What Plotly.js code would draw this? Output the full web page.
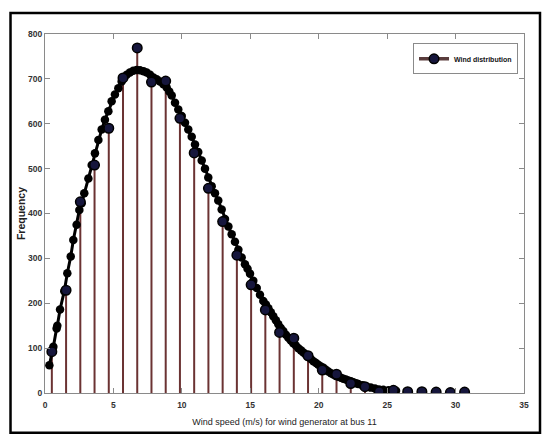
<!DOCTYPE html>
<html>
<head>
<meta charset="utf-8">
<script src="https://cdn.plot.ly/plotly-3.0.1.min.js"></script>
<style>
  html, body { margin: 0; padding: 0; background: #ffffff; }
  #chart { width: 550px; height: 446px; }
</style>
</head>
<body>
<div id="chart"></div>
<script>
// Histogram bin centres (wind speed, m/s) and counts (stem plot)
const binCenters = [0.5, 1.54, 2.58, 3.62, 4.66, 5.7, 6.74, 7.78, 8.82, 9.86,
                    10.9, 11.94, 12.98, 14.02, 15.06, 16.1, 17.14, 18.18, 19.22, 20.26,
                    21.3, 22.34, 23.38, 24.42, 25.46, 26.5, 27.54, 28.58, 29.62, 30.66];
const binCounts = [92, 229, 426, 508, 590, 702, 769, 693, 695, 612,
                   535, 456, 382, 307, 241, 185, 135, 122, 83, 51,
                   42, 21, 14, 3, 6, 3, 3, 2, 1, 2];

// Fitted distribution curve (black line with markers)
const fitSpeed = [0.32, 0.56, 0.61, 0.85, 0.9, 1.1, 1.41, 1.63, 1.88, 2.07,
                  2.31, 2.51, 2.68, 2.87, 3.17, 3.41, 3.65, 3.9, 4.14, 4.38,
                  4.63, 4.87, 5.11, 5.36, 5.6, 5.97, 6.2, 6.45, 6.7, 6.94,
                  7.2, 7.43, 7.68, 7.92, 8.16, 8.4, 8.65, 8.89, 9.08, 9.26,
                  9.5, 9.74, 9.99, 10.23, 10.47, 10.72, 10.96, 11.2, 11.45, 11.69,
                  11.93, 12.18, 12.42, 12.66, 12.91, 13.15, 13.4, 13.64, 13.88, 14.13,
                  14.37, 14.61, 14.8, 14.98, 15.22, 15.47, 15.71, 15.95, 16.14, 16.32,
                  16.5, 16.68, 16.87, 17.05, 17.23, 17.41, 17.6, 17.78, 17.96, 18.14,
                  18.33, 18.51, 18.7, 18.88, 19.06, 19.24, 19.43, 19.61, 19.8, 19.97,
                  20.16, 20.34, 20.52, 20.7, 20.9, 21.07, 21.25, 21.43, 21.62, 21.8,
                  21.98, 22.16, 22.35, 22.53, 22.72, 22.89, 23.2, 23.5, 23.8, 24.11,
                  24.4, 24.72, 25.1, 25.45, 25.65];
const fitFreq = [62, 93, 103, 144, 150, 186, 227, 267, 304, 341,
                 375, 408, 423, 445, 478, 508, 534, 564, 587, 609,
                 628, 650, 665, 679, 694, 709, 714, 718, 720, 719,
                 717, 714, 709, 703, 699, 694, 688, 681, 672, 663,
                 647, 632, 617, 602, 587, 571, 554, 537, 518, 500,
                 480, 461, 445, 429, 409, 388, 371, 354, 337, 319,
                 302, 287, 277, 266, 250, 234, 219, 205, 197, 189,
                 180, 171, 162, 153, 145, 138, 130, 123, 117, 111,
                 106, 100, 95, 90, 86, 81, 76, 71, 67, 63,
                 59, 56, 52, 48, 44, 41, 38, 36, 34, 32,
                 30, 28, 26, 24, 22, 20, 17, 14, 12, 10,
                 8, 7, 6, 5, 5];

const xTickVals = [0, 5, 10, 15, 20, 25, 30, 35];
const yTickVals = [0, 100, 200, 300, 400, 500, 600, 700, 800];

// Build stem segments (x,x,null) / (0,v,null) from the data arrays
const stemX = [], stemY = [];
binCenters.forEach((c, i) => { stemX.push(c, c, null); stemY.push(0, binCounts[i], null); });
// Marker-only points separated by gaps so the legend can show line + marker
const topX = [], topY = [];
binCenters.forEach((c, i) => { topX.push(c, null); topY.push(binCounts[i], null); });

const stemColor = '#6b3333';

const traces = [
  {
    type: 'scatter', mode: 'lines', x: stemX, y: stemY,
    line: { color: stemColor, width: 2 }, showlegend: false, hoverinfo: 'skip'
  },
  {
    type: 'scatter', mode: 'lines+markers', x: fitSpeed, y: fitFreq,
    line: { color: '#000000', width: 3 },
    marker: { color: '#000000', size: 8.5 },
    showlegend: false
  },
  {
    type: 'scatter', mode: 'lines+markers', x: topX, y: topY, connectgaps: false,
    name: 'Wind distribution',
    line: { color: '#5a3c3c', width: 3.5 },
    marker: { color: '#16163c', size: 9.5, line: { color: '#000000', width: 1.5 } }
  }
];

const axisFont = { family: 'Arial, "Liberation Sans", sans-serif', size: 8.5, color: '#333333' };

const layout = {
  width: 550, height: 446,
  margin: { l: 45, r: 26, t: 33.5, b: 53, pad: 0 },
  paper_bgcolor: '#ffffff', plot_bgcolor: '#ffffff',
  showlegend: true,
  legend: {
    x: 0.9875, xanchor: 'right', y: 0.974, yanchor: 'top',
    bgcolor: '#ffffff', bordercolor: '#8a8a8a', borderwidth: 1,
    font: { family: 'Arial, "Liberation Sans", sans-serif', size: 7, color: '#111111', weight: 'bold' },
    itemwidth: 30, tracegroupgap: 0
  },
  xaxis: {
    range: [0, 35], tickvals: xTickVals, ticktext: xTickVals.map(String),
    ticks: 'inside', ticklen: 5, tickcolor: '#8a8a8a', tickwidth: 1,
    showline: true, linecolor: '#8a8a8a', linewidth: 1, mirror: 'ticks',
    showgrid: false, zeroline: false, ticklabelstandoff: 4,
    tickfont: Object.assign({ weight: 'bold' }, axisFont),
    title: { text: 'Wind speed (m/s) for wind generator at bus 11', standoff: 9,
             font: { family: 'Arial, "Liberation Sans", sans-serif', size: 9, color: '#222222' } }
  },
  yaxis: {
    range: [0, 800], tickvals: yTickVals, ticktext: yTickVals.map(String),
    ticks: 'inside', ticklen: 5, tickcolor: '#8a8a8a', tickwidth: 1,
    showline: true, linecolor: '#8a8a8a', linewidth: 1, mirror: 'ticks',
    showgrid: false, zeroline: false,
    tickfont: Object.assign({ weight: 'bold' }, axisFont),
    title: { text: 'Frequency', standoff: 0,
             font: { family: 'Arial, "Liberation Sans", sans-serif', size: 10.5, color: '#222222', weight: 'bold' } }
  },
  shapes: [
    { type: 'rect', xref: 'paper', yref: 'paper', x0: -0.072, x1: 1.0334, y0: -0.111, y1: 1.0584,
      line: { color: '#000000', width: 2.5 }, fillcolor: 'rgba(0,0,0,0)', layer: 'above' }
  ]
};

Plotly.newPlot('chart', traces, layout, { displayModeBar: false, staticPlot: true });
</script>
</body>
</html>
